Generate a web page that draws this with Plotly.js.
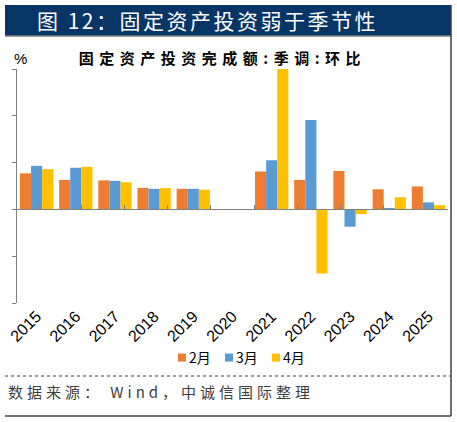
<!DOCTYPE html>
<html>
<head>
<meta charset="utf-8">
<script src="https://cdn.plot.ly/plotly-3.0.1.min.js"></script>
<style>
  body { margin: 0; background: #fff; }
  .annotation[data-index="0"] .annotation-text { letter-spacing: 2.5px; }
  .annotation[data-index="1"] .annotation-text { letter-spacing: 5.5px; }
  .annotation[data-index="3"] .annotation-text { letter-spacing: 4px; }
  .legend .legendtext { transform: translateX(-13px); }
  .legend .legendpoints path { d: path("M4,4H-4V-4H4Z"); }
</style>
</head>
<body>
<div id="chart"></div>
<script>
// 固定资产投资完成额:季调:环比 (单位 %, 读图估计)
var years = ['2015', '2016', '2017', '2018', '2019', '2020', '2021', '2022', '2023', '2024', '2025'];
var feb = [0.77, 0.63, 0.62, 0.46, 0.44, null, 0.81, 0.63, 0.82, 0.43, 0.49];
var mar = [0.93, 0.89, 0.61, 0.44, 0.44, null, 1.05, 1.91, -0.37, 0.03, 0.15];
var apr = [0.86, 0.91, 0.58, 0.455, 0.42, null, 3.0, -1.37, -0.10, 0.26, 0.09];
var seriesNames = ['2月', '3月', '4月'];
var colors = ['#ED7D31', '#5B9BD5', '#FFC000'];

var cjk = '"Noto Sans CJK SC", sans-serif';
var gray = '#808080';

var traces = [feb, mar, apr].map(function (vals, i) {
  return {
    type: 'bar', x: years, y: vals, name: seriesNames[i],
    marker: {color: colors[i]}, hoverinfo: 'x+y'
  };
});
// helper trace so the zero-line axis (x2) gets the same categories
traces.push({type: 'scatter', x: years, y: feb, mode: 'none', xaxis: 'x2',
  showlegend: false, hoverinfo: 'skip'});

var layout = {
  width: 457, height: 422,
  margin: {l: 17, r: 9, t: 69, b: 119},
  paper_bgcolor: '#ffffff', plot_bgcolor: '#ffffff',
  barmode: 'group', bargap: 0.15, bargroupgap: 0,
  showlegend: true,
  legend: {orientation: 'h', x: 0.5, xanchor: 'center', y: -0.235, yanchor: 'middle',
    font: {family: cjk, size: 14, color: '#000'}, entrywidth: 2, entrywidthmode: 'pixels',
    itemwidth: 30, traceorder: 'normal'},
  xaxis: {
    type: 'category', showline: false, ticks: '', showgrid: false, zeroline: false,
    tickangle: -45, tickfont: {family: 'Liberation Sans, Arial', size: 16, color: '#000'}
  },
  xaxis2: {
    type: 'category', overlaying: 'x', anchor: 'free', position: 0.4, side: 'bottom',
    showline: true, linecolor: gray, linewidth: 1, ticks: 'inside', ticklen: 4,
    tickcolor: gray, tickson: 'boundaries', showticklabels: false, showgrid: false
  },
  yaxis: {
    range: [-2, 3], dtick: 1, showticklabels: false, ticks: 'outside', ticklen: 4,
    tickcolor: gray, showline: true, linecolor: gray, showgrid: false, zeroline: false
  },
  shapes: [
    {type: 'rect', xref: 'paper', yref: 'paper', x0: -0.0278, x1: 1.007, y0: 1.141, y1: 1.2735,
      fillcolor: '#063566', line: {width: 0}},
    {type: 'line', xref: 'paper', yref: 'paper', x0: -0.0278, x1: 1.007, y0: 1.141, y1: 1.141,
      line: {color: '#7f7f7f', width: 1.5}},
    {type: 'line', xref: 'paper', yref: 'paper', x0: 1.007, x1: 1.007, y0: 1.2735, y1: -0.483,
      line: {color: '#404040', width: 1.5}},
    {type: 'line', xref: 'paper', yref: 'paper', x0: -0.0278, x1: 1.007, y0: -0.483, y1: -0.483,
      line: {color: '#404040', width: 1.5}},
    {type: 'line', xref: 'paper', yref: 'paper', x0: -0.0278, x1: 1.007, y0: -0.312, y1: -0.312,
      line: {color: '#404040', width: 1, dash: 'dot'}}
  ],
  annotations: [
    {text: '图 12：固定资产投资弱于季节性', xref: 'paper', yref: 'paper', x: 0.442, y: 1.209,
      xanchor: 'center', yanchor: 'middle', showarrow: false,
      font: {family: cjk, size: 21, color: '#ffffff'}},
    {text: '<b>固定资产投资完成额:季调:环比</b>', xref: 'paper', yref: 'paper', x: 0.477, y: 1.051,
      xanchor: 'center', yanchor: 'middle', showarrow: false,
      font: {family: cjk, size: 15, color: '#000'}},
    {text: '%', xref: 'paper', yref: 'paper', x: -0.0116, y: 1.043,
      xanchor: 'left', yanchor: 'middle', showarrow: false,
      font: {family: 'Liberation Sans, Arial', size: 15, color: '#000'}},
    {text: '数据来源： Wind，中诚信国际整理', xref: 'paper', yref: 'paper', x: 0.334, y: -0.38,
      xanchor: 'center', yanchor: 'middle', showarrow: false,
      font: {family: cjk, size: 15, color: '#404040'}}
  ]
};

Plotly.newPlot('chart', traces, layout, {displayModeBar: false, staticPlot: true});
</script>
</body>
</html>
